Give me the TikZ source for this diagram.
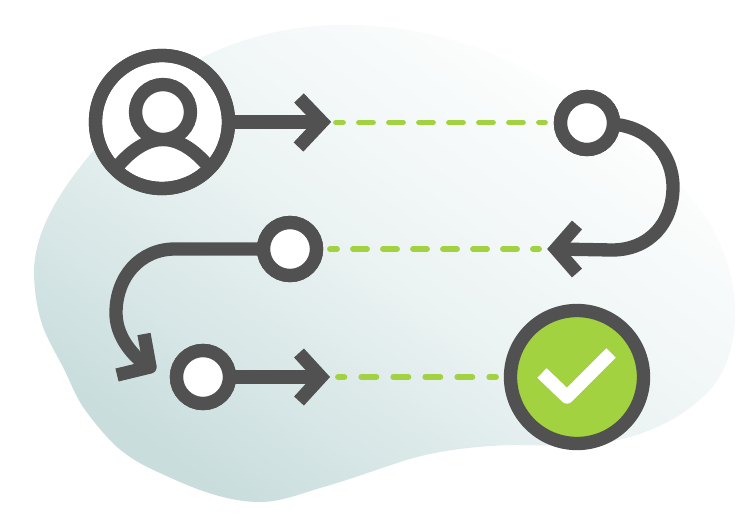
\documentclass[tikz,border=0pt]{standalone}
\usetikzlibrary{calc}
\definecolor{ink}{HTML}{515151}
\definecolor{leaf}{HTML}{A2D240}
\definecolor{mist}{HTML}{C9DDDD}
\tikzset{
  x=0.75pt,y=-0.75pt,
  ring/.style={circle,draw=ink,line width=10pt,fill=white,inner sep=0pt,outer sep=0pt},
  small/.style={ring,minimum size=39.75pt},
  big/.style={ring,minimum size=99.75pt},
  line/.style={draw=ink,line width=10pt,line cap=butt},
  head/.style={draw=ink,line width=10pt,line cap=butt,line join=miter},
  trail/.style={draw=leaf,line width=4.4pt,line cap=round,dash pattern=on 10.5pt off 12pt,dash phase=5.25pt},
  trailwide/.style={trail,dash pattern=on 11.25pt off 12.75pt,dash phase=6.5pt},
}
\begin{document}
\begin{tikzpicture}
\useasboundingbox (0,0) rectangle (756,529);
\path[fill=white] (0,0) rectangle (756,529);
% blob
\shade[bottom color=mist,top color=white,shading angle=-35,middle color=mist!35!white]
 (330,25) .. controls (440,22) and (530,60) .. (610,125)
 .. controls (660,165) and (732,215) .. (735,310)
 .. controls (736,350) and (722,378) .. (707,393)
 .. controls (685,415) and (660,428) .. (630,437)
 .. controls (590,448) and (550,445) .. (513,445)
 .. controls (470,446) and (430,452) .. (400,462)
 .. controls (370,472) and (345,481) .. (320,488)
 .. controls (300,494) and (280,502) .. (260,502)
 .. controls (225,502) and (190,487) .. (160,473)
 .. controls (140,464) and (130,458) .. (117,447)
 .. controls (105,436) and (93,421) .. (83,407)
 .. controls (75,395) and (70,381) .. (63,367)
 .. controls (55,352) and (48,340) .. (43,327)
 .. controls (37,310) and (34,290) .. (34,270)
 .. controls (36,215) and (80,165) .. (120,120)
 .. controls (170,65) and (240,30) .. (330,25) -- cycle;
\coordinate (tipA) at (322,122);
\coordinate (tipB) at (556,249);
\coordinate (tipC) at (148,367);
\coordinate (tipD) at (321,377);
\coordinate (trailAs) at (336,122.5);
\coordinate (trailAe) at (545,122.5);
\coordinate (trailBs) at (330,249);
\coordinate (trailBe) at (539,249);
\coordinate (trailCs) at (338,377);
\coordinate (trailCe) at (496,377);
\node[big] (user) at (162,122) {};
\node[small] (stepA) at (587,123) {};
\node[small] (stepB) at (290,249) {};
\node[small] (stepC) at (203,377) {};
\node[big,fill=leaf] (done) at (577,377) {};
% person
\begin{scope}
\clip (user.center) circle (50pt);
\draw[draw=ink,line width=10pt] (113,172) .. controls (130,150) and (147,139.5) .. (163,139.5) .. controls (179,139.5) and (196,150) .. (213,172);
\end{scope}
\node[circle,draw=ink,line width=10pt,fill=white,minimum size=41.25pt,inner sep=0pt] (face) at (163,112) {};
\draw[draw=ink,line width=10pt] (user.center) circle (49.875pt);
% arrows
\draw[line] (user.east) -- (tipA);
\draw[head] (299,98) -- (tipA) -- (298.5,147);
\draw[line] (stepA.east) ++(-3,1) .. controls (650,126) and (673,155) .. (673,187)
  .. controls (673,222) and (650,250) .. (612,250) -- (tipB);
\draw[head] (577,225) -- (tipB) -- (577,273);
\draw[line] (stepB.west) -- (175,249) .. controls (140,249) and (116,277) .. (116,313)
  .. controls (116,333) and (128,352) .. (tipC);
\draw[head,line join=round] (144,334) -- (150,367) -- (117,375);
\draw[line] (stepC.east) -- (tipD);
\draw[head] (299,353) -- (tipD) -- (299,401);
\node[small] at (stepA.center) {};
\node[small] at (stepB.center) {};
\node[small] at (stepC.center) {};
% dashed trails
\draw[trail] (trailAs) -- (trailAe);
\draw[trail] (trailBs) -- (trailBe);
\draw[trailwide] (trailCs) -- (trailCe);
% check
\draw[white,line width=10pt,line cap=butt,line join=round] (542,373) -- (567,397) -- (611,353);
\end{tikzpicture}
\end{document}
